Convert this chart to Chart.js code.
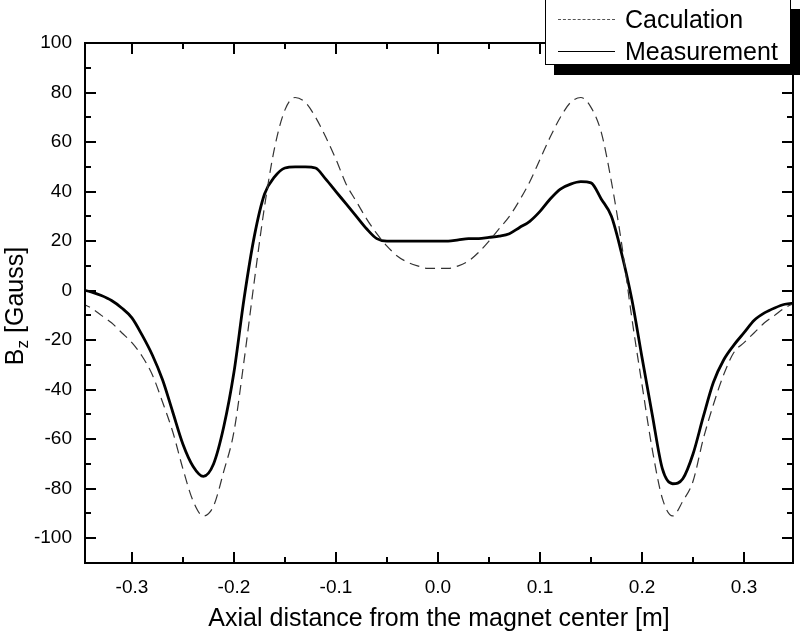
<!DOCTYPE html>
<html>
<head>
<meta charset="utf-8">
<script src="https://cdn.jsdelivr.net/npm/chart.js@4.4.1/dist/chart.umd.min.js"></script>
<style>
  html, body { margin: 0; padding: 0; background: #fff; }
  #wrap { position: relative; width: 800px; height: 636px; }
  #legend {
    position: absolute; left: 545px; top: -1px; width: 244px; height: 64px;
    background: #fff; border: 1.5px solid #000; box-shadow: 9px 10px 0 #000;
    font-family: "Liberation Sans", Arial, sans-serif; font-size: 25px; color: #000;
  }
  #legend .row { position: absolute; left: 0; height: 30px; line-height: 30px; }
  #legend .sample { position: absolute; left: 12px; width: 57px; top: 15px; }
  #legend .label { position: absolute; left: 79px; white-space: nowrap; }
  #legend .dash { border-top: 1.2px dashed #555; }
  #legend .solid { border-top: 1.6px solid #000; }
</style>
</head>
<body>
<div id="wrap">
  <canvas id="chart" width="800" height="636"></canvas>
  <div id="legend">
    <div class="row" style="top:4px"><div class="sample dash"></div><span class="label">Caculation</span></div>
    <div class="row" style="top:36px"><div class="sample solid"></div><span class="label">Measurement</span></div>
  </div>
</div>
<script>
// ── Data ───────────────────────────────────
const xs = [
  -0.35, -0.34, -0.33, -0.32, -0.31, -0.30, -0.29, -0.28, -0.27, -0.26,
  -0.25, -0.24, -0.23, -0.22, -0.21, -0.20, -0.19, -0.18, -0.17, -0.16,
  -0.15, -0.14, -0.13, -0.12, -0.11, -0.10, -0.09, -0.08, -0.07, -0.06,
  -0.05, -0.04, -0.03, -0.02, -0.01, 0.00, 0.01, 0.02, 0.03, 0.04,
  0.05, 0.06, 0.07, 0.08, 0.09, 0.10, 0.11, 0.12, 0.13, 0.14,
  0.15, 0.16, 0.17, 0.18, 0.19, 0.20, 0.21, 0.22, 0.23, 0.24,
  0.25, 0.26, 0.27, 0.28, 0.29, 0.30, 0.31, 0.32, 0.33, 0.34, 0.35
];

const calculation = [
  -5, -7, -10, -13, -17, -21, -26.5, -34, -45, -57,
  -72, -85, -91, -87, -73, -57, -28, 4, 34, 58,
  73, 78, 76, 70, 62, 53, 43, 36, 29, 23,
  18, 14, 11.5, 10, 9, 9, 9, 10, 12, 15.5,
  20, 25, 30, 36.5, 44, 53, 62, 70, 76, 78,
  74, 64, 44, 19, -11, -38, -64, -84, -91, -85,
  -77, -60, -46, -34, -25, -21, -17, -13, -10, -7, -5
];

const measurement = [
  0.5, -0.5, -2, -4, -7, -11, -18, -26, -36, -49,
  -62, -71, -75, -70, -55, -33, -3, 22, 39, 46,
  49.5, 50, 50, 49.5, 45, 40, 35, 30, 25, 21,
  20, 20, 20, 20, 20, 20, 20, 20.5, 21, 21,
  21.5, 22, 23, 25.5, 28, 32, 37, 41, 43, 44,
  43.5, 37, 30, 15, -3.5, -27, -50, -72, -78, -76,
  -66, -51, -37, -28, -22, -17, -12, -9, -7, -5.5, -5
];

const xMajor = [-0.3, -0.2, -0.1, 0.0, 0.1, 0.2, 0.3];
const xMinor = [-0.35, -0.25, -0.15, -0.05, 0.05, 0.15, 0.25, 0.35];
const yMajor = [-100, -80, -60, -40, -20, 0, 20, 40, 60, 80, 100];
const yMinor = [-110, -90, -70, -50, -30, -10, 10, 30, 50, 70, 90];

const FONT = '"Liberation Sans", Arial, sans-serif';

// ── Frame with inward ticks on all four sides ─
const framePlugin = {
  id: 'frame',
  afterDraw(chart) {
    const { ctx, chartArea: a, scales: { x, y } } = chart;
    ctx.save();
    ctx.strokeStyle = '#000';
    ctx.lineWidth = 2;
    ctx.strokeRect(a.left, a.top, a.right - a.left, a.bottom - a.top);
    ctx.beginPath();
    const tickX = (v, len) => {
      const px = Math.round(x.getPixelForValue(v));
      if (px < a.left || px > a.right) return;
      ctx.moveTo(px, a.bottom); ctx.lineTo(px, a.bottom - len);
      ctx.moveTo(px, a.top);    ctx.lineTo(px, a.top + len);
    };
    const tickY = (v, len) => {
      const py = Math.round(y.getPixelForValue(v));
      if (py < a.top || py > a.bottom) return;
      ctx.moveTo(a.left, py);  ctx.lineTo(a.left + len, py);
      ctx.moveTo(a.right, py); ctx.lineTo(a.right - len, py);
    };
    xMajor.forEach(v => tickX(v, 11));
    xMinor.forEach(v => tickX(v, 6));
    yMajor.forEach(v => tickY(v, 11));
    yMinor.forEach(v => tickY(v, 6));
    ctx.stroke();

    // y title with subscript z
    ctx.translate(16, 306);
    ctx.rotate(-Math.PI / 2);
    ctx.fillStyle = '#000';
    ctx.textBaseline = 'middle';
    ctx.font = '25px ' + FONT;
    const wB = ctx.measureText('B').width;
    ctx.font = '17px ' + FONT;
    const wZ = ctx.measureText('z').width;
    ctx.font = '25px ' + FONT;
    const rest = ' [Gauss]';
    const wR = ctx.measureText(rest).width;
    let sx = -(wB + wZ + wR) / 2;
    ctx.fillText('B', sx, 0);
    sx += wB;
    ctx.font = '17px ' + FONT;
    ctx.fillText('z', sx, 7);
    sx += wZ;
    ctx.font = '25px ' + FONT;
    ctx.fillText(rest, sx, 0);
    ctx.restore();
  }
};

new Chart(document.getElementById('chart'), {
  type: 'line',
  data: {
    datasets: [
      {
        label: 'Caculation',
        data: xs.map((x, i) => ({ x, y: calculation[i] })),
        borderColor: '#333',
        borderWidth: 1.2,
        borderDash: [10, 6],
        pointRadius: 0,
        cubicInterpolationMode: 'monotone',
      },
      {
        label: 'Measurement',
        data: xs.map((x, i) => ({ x, y: measurement[i] })),
        borderColor: '#000',
        borderWidth: 2.8,
        pointRadius: 0,
        cubicInterpolationMode: 'monotone',
      },
    ],
  },
  options: {
    responsive: false,
    animation: false,
    layout: { padding: { left: 0, right: 7, top: 43, bottom: 0 } },
    plugins: { legend: { display: false }, tooltip: { enabled: false } },
    scales: {
      x: {
        type: 'linear',
        min: -0.346, max: 0.348,
        grid: { display: false, drawTicks: false },
        border: { display: false },
        afterBuildTicks: s => { s.ticks = xMajor.map(v => ({ value: v })); },
        afterFit: s => { s.height = 73; },
        ticks: {
          color: '#000', padding: 13,
          font: { family: FONT, size: 19 },
          callback: v => v.toFixed(1),
        },
        title: {
          display: true, text: 'Axial distance from the magnet center [m]',
          color: '#000', font: { family: FONT, size: 25 }, padding: { top: 0, bottom: 2 },
        },
      },
      y: {
        min: -110, max: 100,
        grid: { display: false, drawTicks: false },
        border: { display: false },
        afterBuildTicks: s => { s.ticks = yMajor.map(v => ({ value: v })); },
        afterFit: s => { s.width = 85; },
        ticks: {
          color: '#000', padding: 13,
          font: { family: FONT, size: 19 },
        },
      },
    },
  },
  plugins: [framePlugin],
});
</script>
</body>
</html>
